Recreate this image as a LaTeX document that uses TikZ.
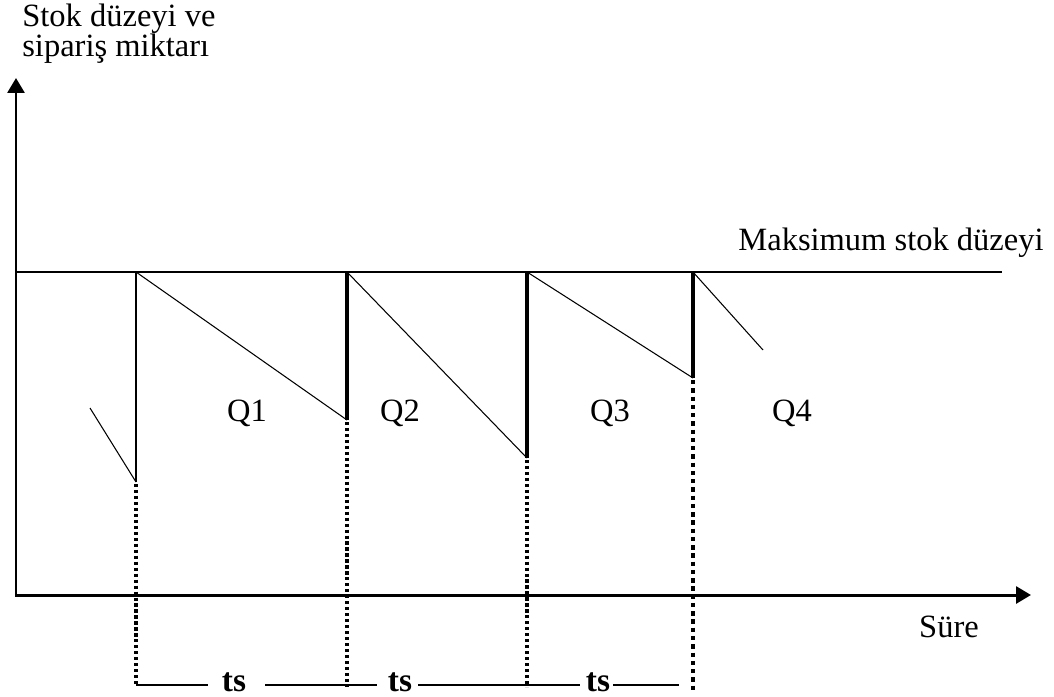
\documentclass[tikz,border=0pt]{standalone}
\usepackage{fontspec}
\setmainfont{Liberation Serif}
\usetikzlibrary{arrows.meta}

\begin{document}
\begin{tikzpicture}[x=0.02cm,y=-0.02cm,>={Triangle[length=8.5pt,width=9.6pt]},
  lbl/.style={font=\fontsize{18.5}{17}\selectfont,inner sep=0pt},
  saw/.style={line width=0.6pt},
  dotline/.style={line width=1.8pt,dash pattern=on 1.8pt off 1.6pt}]
  \useasboundingbox (0,0) rectangle (1054,696);
  % axes
  \draw[line width=1.7pt,->] (16,595) -- (16,78);
  \draw[line width=1.7pt,->] (15,595) -- (1031,595);
  \draw[line width=0.8pt] (16,272) -- (1002,272);
  \node[lbl,anchor=base west] at (22,27) {Stok düzeyi ve};
  \node[lbl,anchor=base west] at (22,57) {sipariş miktarı};
  \node[lbl,anchor=base] at (891,250) {Maksimum stok düzeyi};
  \node[lbl,anchor=base] at (949,637) {Süre};
  % orders
  \draw[line width=1.4pt] (136,272) -- (136,482);
  \draw[line width=2.6pt] (347,272) -- (347,420);
  \draw[line width=1.9pt] (527,272) -- (527,458);
  \draw[line width=1.9pt] (693,272) -- (693,378);
  \draw[saw] (90,408) -- (136,482);
  \draw[saw] (136,272) -- (347,420);
  \draw[saw] (347,272) -- (527,458);
  \draw[saw] (527,272) -- (693,378);
  \draw[saw] (693,272) -- (763,350);
  \foreach \x/\q in {247/1,400/2,610/3,792/4}
    \node[lbl,anchor=base] at (\x,421) {Q\q};
  % periods
  \draw[dotline] (136,484) -- (136,687);
  \draw[dotline] (347,422) -- (347,687);
  \draw[dotline] (527,460) -- (527,687);
  \draw[dotline,line width=2.5pt,dash pattern=on 2.5pt off 2.2pt] (693,380) -- (693,690);
  \foreach \a/\b in {136/208,265/377,418/580,613/679}
    \draw[line width=0.7pt] (\a,685) -- (\b,685);
  \foreach \x in {234,400,598}
    \node[lbl,font=\fontsize{19}{19}\selectfont\bfseries,anchor=base] at (\x,691) {ts};
\end{tikzpicture}
\end{document}
